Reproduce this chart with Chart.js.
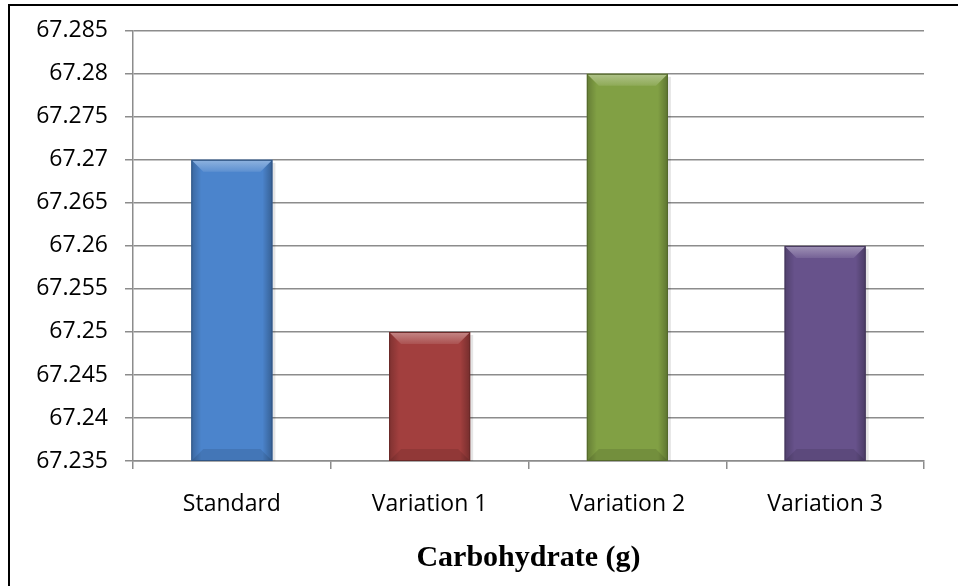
<!DOCTYPE html>
<html>
<head>
<meta charset="utf-8">
<script src="https://cdn.jsdelivr.net/npm/chart.js@4/dist/chart.umd.min.js"></script>
<style>
html, body { margin: 0; padding: 0; background: #fff; }
</style>
</head>
<body>
<canvas id="carbChart" width="958" height="586"></canvas>
<script>
var categories = ['Standard', 'Variation 1', 'Variation 2', 'Variation 3'];
var carbValues = [67.27, 67.25, 67.28, 67.26];
var barColours = ['#4b84cc', '#a23f3e', '#81a044', '#67528b'];
var yMin = 67.235;
var yMax = 67.285;
var yStep = 0.005;

function mix(hex, target, amount) {
    var r = parseInt(hex.slice(1, 3), 16), g = parseInt(hex.slice(3, 5), 16), b = parseInt(hex.slice(5, 7), 16);
    r = Math.round(r + (target - r) * amount);
    g = Math.round(g + (target - g) * amount);
    b = Math.round(b + (target - b) * amount);
    return 'rgb(' + r + ',' + g + ',' + b + ')';
}

// page frame, only left and top edges show in the picture
var framePlugin = {
    id: 'frame',
    beforeDraw: function (chart) {
        var ctx = chart.ctx;
        ctx.save();
        ctx.fillStyle = '#fff';
        ctx.fillRect(0, 0, chart.width, chart.height);
        ctx.strokeStyle = '#000';
        ctx.lineWidth = 2;
        ctx.beginPath();
        ctx.moveTo(9, chart.height + 2);
        ctx.lineTo(9, 5);
        ctx.lineTo(chart.width + 2, 5);
        ctx.stroke();
        ctx.restore();
    }
};

function barBox(chart, el) {
    return {
        L: el.x - el.width / 2,
        R: el.x + el.width / 2,
        T: el.y,
        B: Math.min(el.base, chart.chartArea.bottom)
    };
}

// office style bevel on the bars
var bevelPlugin = {
    id: 'bevel',
    beforeDatasetsDraw: function (chart) {
        var ctx = chart.ctx;
        ctx.save();
        chart.getDatasetMeta(0).data.forEach(function (el) {
            var b = barBox(chart, el);
            ctx.fillStyle = 'rgba(0,0,0,0.10)';
            ctx.fillRect(b.L + 3, b.T + 3, b.R - b.L, b.B - b.T - 3);
        });
        ctx.restore();
    },
    afterDatasetsDraw: function (chart) {
        var ctx = chart.ctx;
        ctx.save();
        chart.getDatasetMeta(0).data.forEach(function (el, i) {
            var c = barColours[i];
            var b = barBox(chart, el);
            var L = b.L, R = b.R, T = b.T, B = b.B;
            var bv = 12;
            var g = ctx.createLinearGradient(L, 0, L + 10, 0);
            g.addColorStop(0, 'rgba(0,0,0,0.22)');
            g.addColorStop(1, 'rgba(0,0,0,0)');
            ctx.fillStyle = g;
            ctx.fillRect(L, T, 10, B - T);
            g = ctx.createLinearGradient(R - 10, 0, R, 0);
            g.addColorStop(0, 'rgba(0,0,0,0)');
            g.addColorStop(1, 'rgba(0,0,0,0.28)');
            ctx.fillStyle = g;
            ctx.fillRect(R - 10, T, 10, B - T);

            g = ctx.createLinearGradient(0, T, 0, T + bv);
            g.addColorStop(0, mix(c, 255, 0.38));
            g.addColorStop(1, mix(c, 255, 0.10));
            ctx.fillStyle = g;
            ctx.beginPath();
            ctx.moveTo(L, T);
            ctx.lineTo(R, T);
            ctx.lineTo(R - bv, T + bv);
            ctx.lineTo(L + bv, T + bv);
            ctx.closePath();
            ctx.fill();

            ctx.fillStyle = 'rgba(0,0,0,0.10)';
            ctx.beginPath();
            ctx.moveTo(L, B);
            ctx.lineTo(R, B);
            ctx.lineTo(R - bv, B - bv);
            ctx.lineTo(L + bv, B - bv);
            ctx.closePath();
            ctx.fill();

            ctx.strokeStyle = mix(c, 0, 0.35);
            ctx.lineWidth = 1;
            ctx.strokeRect(L + 0.5, T + 0.5, R - L - 1, B - T - 1);
        });
        ctx.restore();
    }
};

const data = {
    labels: categories,
    datasets: [{
        data: carbValues,
        backgroundColor: barColours,
        borderWidth: 0,
        barPercentage: 0.41,
        categoryPercentage: 1
    }]
};

const config = {
    type: 'bar',
    data,
    options: {
        animation: false,
        responsive: false,
        layout: { padding: { left: 0, right: 34, top: 29, bottom: 0 } },
        plugins: {
            legend: { display: false },
            tooltip: { enabled: false }
        },
        scales: {
            y: {
                min: yMin,
                max: yMax,
                afterFit: function (scale) { scale.width = 133; },
                border: { color: '#8c8c8c', width: 1.5 },
                grid: { color: '#8c8c8c', lineWidth: 1.5, tickLength: 8 },
                ticks: {
                    stepSize: yStep,
                    padding: 17,
                    color: '#000',
                    font: { family: 'Open Sans', size: 23 },
                    callback: function (v) { return String(Number(v.toFixed(3))); }
                }
            },
            x: {
                afterFit: function (scale) { scale.height = 125; },
                border: { color: '#8c8c8c', width: 1.5 },
                grid: { color: '#8c8c8c', lineWidth: 1.5, tickLength: 8, drawOnChartArea: false },
                ticks: {
                    padding: 22,
                    color: '#000',
                    font: { family: 'Open Sans', size: 23 }
                },
                title: {
                    display: true,
                    text: 'Carbohydrate (g)',
                    color: '#000',
                    font: { family: 'Liberation Serif', size: 30, weight: 'bold' },
                    padding: { top: 0, bottom: 10 }
                }
            }
        }
    },
    plugins: [framePlugin, bevelPlugin]
};

new Chart(document.getElementById('carbChart'), config);
</script>
</body>
</html>
